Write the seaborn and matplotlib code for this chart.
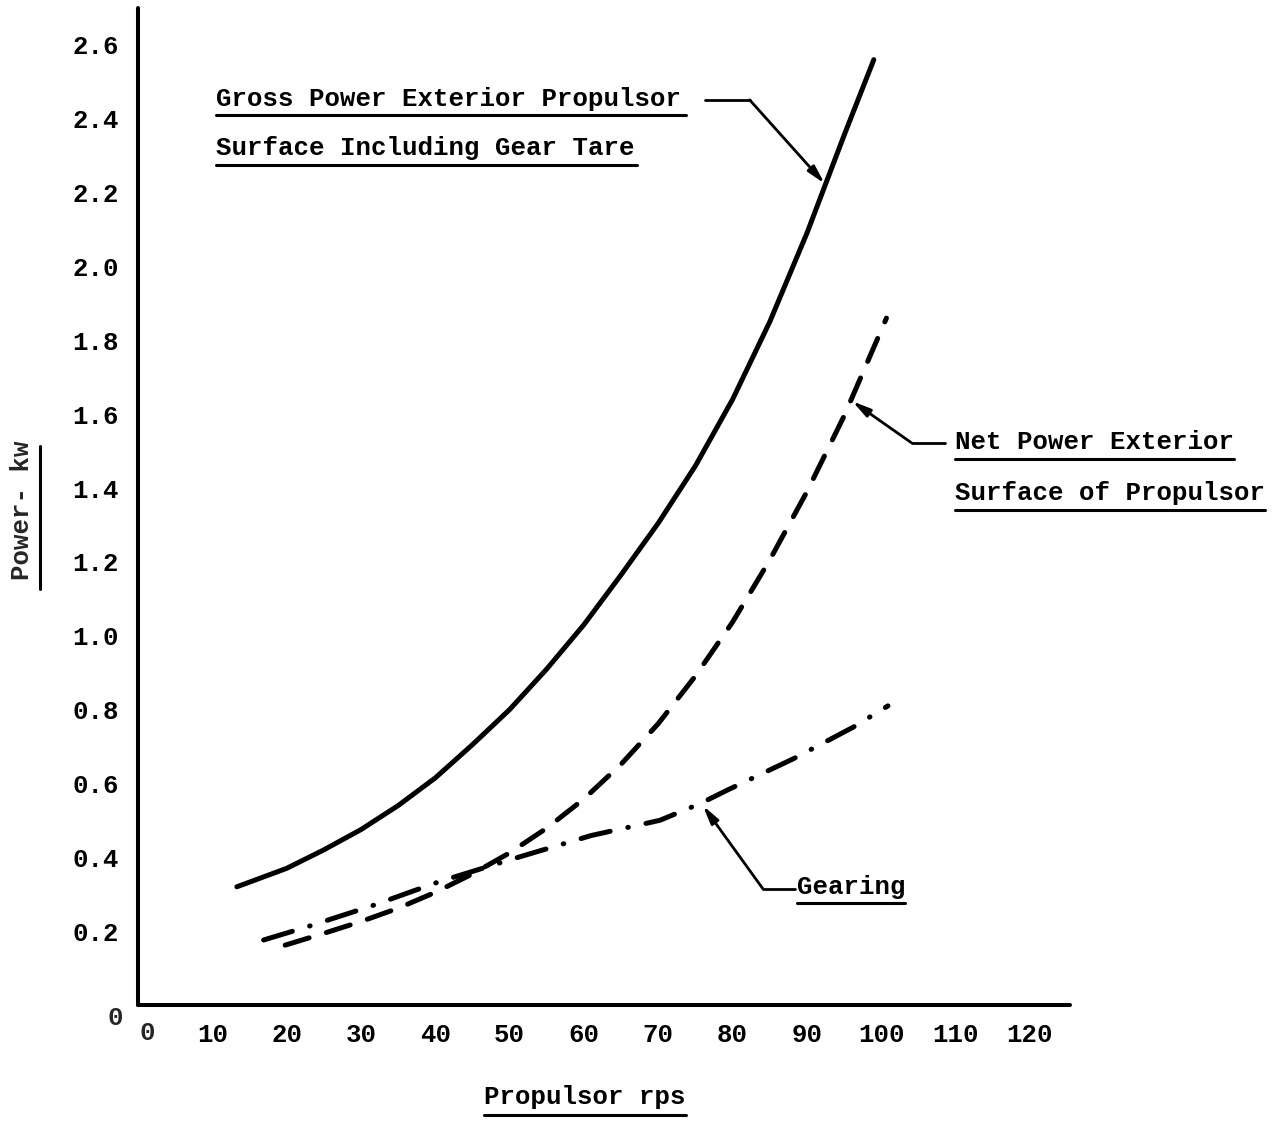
import matplotlib
matplotlib.use("Agg")
import matplotlib.pyplot as plt
import seaborn as sns
import pandas as pd

# Gross power at the exterior propulsor surface, including gear tare (kW)
gross_rps = [13.3, 20, 25, 30, 35, 40, 45, 50, 55, 60, 65, 70, 75, 80, 85, 90, 95, 99]
gross_kw = [0.32, 0.37, 0.42, 0.475, 0.54, 0.615, 0.705, 0.80, 0.91, 1.03, 1.165, 1.305,
            1.46, 1.64, 1.85, 2.09, 2.355, 2.56]

# Net power at the exterior surface of the propulsor (kW)
net_rps = [19.8, 25, 30, 35, 40, 45, 50, 55, 60, 65, 70, 75, 80, 85, 90, 95, 100.7]
net_kw = [0.162, 0.194, 0.226, 0.262, 0.305, 0.355, 0.412, 0.479, 0.558, 0.652, 0.762, 0.891,
          1.037, 1.205, 1.39, 1.595, 1.86]

# Gearing losses (kW)
gear_rps = [16.9, 22.5, 31.4, 40.4, 50.5, 61.0, 70.2, 75.6, 79.2, 88.2, 96.2, 100.9]
gear_kw = [0.176, 0.21, 0.268, 0.333, 0.396, 0.459, 0.50, 0.545, 0.581, 0.667, 0.752, 0.81]

x_ticks = [10, 20, 30, 40, 50, 60, 70, 80, 90, 100, 110, 120]
y_ticks = [0.2, 0.4, 0.6, 0.8, 1.0, 1.2, 1.4, 1.6, 1.8, 2.0, 2.2, 2.4, 2.6]

sns.set_theme(style="white")
plt.rcParams["font.family"] = ["Liberation Mono", "DejaVu Sans Mono"]
plt.rcParams["font.weight"] = "bold"
plt.rcParams["lines.scale_dashes"] = False

FS = 18.5
LW_AXIS = 2.9
LW_CURVE = 3.6

fig = plt.figure(figsize=(12.85, 11.21), dpi=100)
ax = fig.add_axes([0.1074, 0.1035, 0.7253, 0.8894])

gross = pd.DataFrame({"rps": gross_rps, "kw": gross_kw})
net = pd.DataFrame({"rps": net_rps, "kw": net_kw})
gear = pd.DataFrame({"rps": gear_rps, "kw": gear_kw})

sns.lineplot(data=gross, x="rps", y="kw", ax=ax, color="black", lw=LW_CURVE,
             sort=False, solid_capstyle="round", solid_joinstyle="round")
sns.lineplot(data=net, x="rps", y="kw", ax=ax, color="black", lw=LW_CURVE,
             sort=False, linestyle=(0, (18, 13)), dash_capstyle="round")
sns.lineplot(data=gear, x="rps", y="kw", ax=ax, color="black", lw=LW_CURVE,
             sort=False, linestyle=(0, (21.6, 13, 0.4, 13)), dash_capstyle="round")

ax.set_xlim(0, 125.4)
ax.set_ylim(0, 2.70)

for side in ("top", "right"):
    ax.spines[side].set_visible(False)
for side in ("left", "bottom"):
    ax.spines[side].set_linewidth(LW_AXIS)
    ax.spines[side].set_color("black")
    ax.spines[side].set_capstyle("round")

ax.set_xticks(x_ticks)
ax.set_xticklabels([str(v) for v in x_ticks])
ax.set_yticks(y_ticks)
ax.set_yticklabels([f"{v:.1f}" for v in y_ticks])
ax.tick_params(axis="both", direction="in", length=8.5, width=LW_AXIS,
               colors="black", labelsize=FS)
ax.tick_params(axis="x", pad=13)
ax.tick_params(axis="y", pad=14)
for lab in ax.get_xticklabels() + ax.get_yticklabels():
    lab.set_fontweight("bold")

ax.set_xlabel("")
ax.set_ylabel("")

# origin labels
ax.text(-3.1, -0.035, "0", fontsize=FS, fontweight="bold", ha="center", va="center", clip_on=False)
ax.text(1.2, -0.077, "0", fontsize=FS, fontweight="bold", ha="center", va="center", clip_on=False)


def underlined(x, y, text, x_end, y_line):
    ax.text(x, y, text, fontsize=FS, fontweight="bold", ha="left", va="center",
            color="black", clip_on=False)
    ax.plot([x, x_end], [y_line, y_line], color="black", lw=2.2,
            solid_capstyle="round", clip_on=False)


def leader(start, bend, tip):
    ax.plot([start[0], bend[0]], [start[1], bend[1]], color="black", lw=2.0,
            solid_capstyle="round", clip_on=False)
    ax.annotate("", xy=tip, xytext=bend,
                arrowprops=dict(arrowstyle="-|>,head_length=0.9,head_width=0.22",
                                color="black", lw=2.0, shrinkA=0, shrinkB=0),
                annotation_clip=False)


# Gross power label
underlined(10.5, 2.454, "Gross Power Exterior Propulsor", 73.7, 2.411)
underlined(10.5, 2.322, "Surface Including Gear Tare", 67.1, 2.276)
leader((76.3, 2.451), (82.3, 2.451), (92.4, 2.224))

# Net power label
underlined(109.9, 1.524, "Net Power Exterior", 147.5, 1.478)
underlined(109.9, 1.386, "Surface of Propulsor", 151.6, 1.341)
leader((108.6, 1.522), (104.1, 1.522), (96.1, 1.635))

# Gearing label
underlined(88.7, 0.319, "Gearing", 103.2, 0.276)
leader((88.4, 0.314), (84.1, 0.314), (76.0, 0.540))

# Axis titles
underlined(46.5, -0.249, "Propulsor rps", 73.7, -0.297)
ax.text(-15.6, 1.34, "Power- kw", fontsize=FS, fontweight="bold", rotation=90,
        ha="center", va="center", clip_on=False)
ax.plot([-13.2, -13.2], [1.127, 1.514], color="black", lw=2.2,
        solid_capstyle="round", clip_on=False)

fig.savefig("out.png", dpi=100, facecolor="white")
